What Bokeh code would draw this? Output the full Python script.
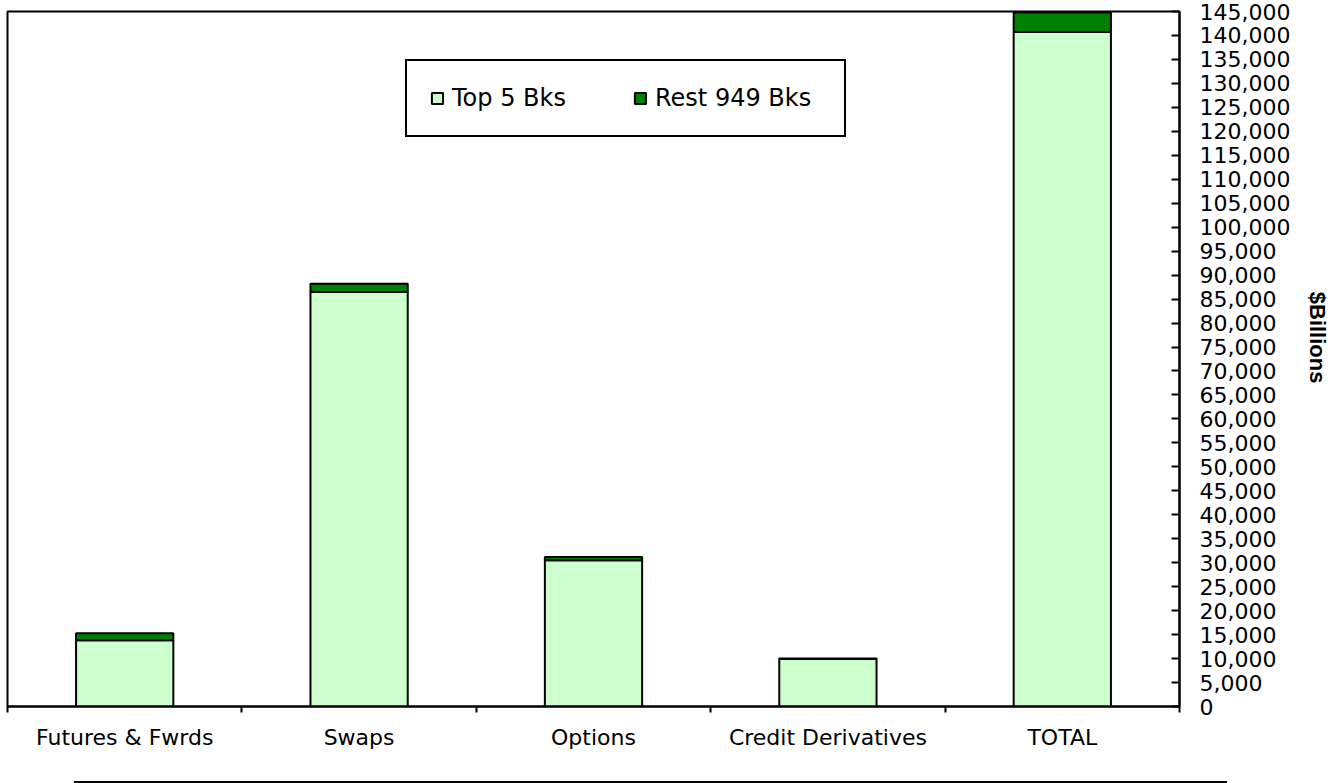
from bokeh.plotting import figure
from bokeh.models import ColumnDataSource, FixedTicker, NumeralTickFormatter, Div, Range1d
from bokeh.layouts import column
from bokeh.embed import file_html
from bokeh.resources import INLINE

categories = ["Futures & Fwrds", "Swaps", "Options", "Credit Derivatives", "TOTAL"]
top5 = [13800, 86500, 30500, 9900, 140700]
rest = [1500, 1700, 700, 100, 4100]
series_names = ["Top 5 Bks", "Rest 949 Bks"]
y_ticks = list(range(0, 145001, 5000))
y_title = "$Billions"

LIGHT = "#CCFFCC"
DARK = "#008000"
FONT = "DejaVu Sans"

xpos = [i + 0.5 for i in range(len(categories))]
src = ColumnDataSource(dict(x=xpos, top5=top5, rest=rest))

p = figure(frame_width=1172, frame_height=695, output_backend="svg", toolbar_location=None,
           x_range=Range1d(0, len(categories)), y_range=Range1d(0, 145000),
           y_axis_location="right", min_border_left=7, min_border_top=11,
           min_border_bottom=70, min_border_right=140)
p.outline_line_color = "black"
p.outline_line_width = 2
p.outline_line_alpha = 1
p.xgrid.visible = False
p.ygrid.visible = False
p.background_fill_color = "white"

p.vbar_stack(["top5", "rest"], x="x", width=0.415, source=src,
             fill_color=[LIGHT, DARK], line_color="black", line_width=2,
             legend_label=series_names)

xa = p.xaxis[0]
xa.ticker = FixedTicker(ticks=xpos, minor_ticks=list(range(len(categories) + 1)))
xa.major_label_overrides = {x: c for x, c in zip(xpos, categories)}
xa.major_tick_line_color = None
xa.minor_tick_in = 0
xa.minor_tick_out = 6
xa.minor_tick_line_width = 2
xa.minor_tick_line_color = "black"
xa.axis_line_width = 2
xa.axis_line_color = "black"
xa.major_label_text_font = FONT
xa.major_label_text_font_size = "22px"
xa.major_label_text_color = "black"
xa.major_label_standoff = 12

ya = p.yaxis[0]
ya.ticker = FixedTicker(ticks=y_ticks, minor_ticks=[])
ya.formatter = NumeralTickFormatter(format="0,0")
ya.major_tick_in = 8
ya.major_tick_out = 0
ya.major_tick_line_width = 2
ya.major_tick_line_color = "black"
ya.axis_line_width = 2
ya.axis_line_color = "black"
ya.major_label_text_font = FONT
ya.major_label_text_font_size = "22px"
ya.major_label_text_color = "black"
ya.major_label_standoff = 20
# trailing non-breaking spaces lift the rotated title a little, as in the original
ya.axis_label = y_title + "\u00a0" * 7
ya.axis_label_text_font = "Liberation Sans"
ya.axis_label_text_font_style = "bold"
ya.axis_label_text_font_size = "22px"
ya.axis_label_text_color = "black"
ya.axis_label_standoff = 12

lg = p.legend[0]
lg.orientation = "horizontal"
lg.location = (398, 569)
lg.border_line_color = "black"
lg.border_line_width = 2
lg.border_line_alpha = 1
lg.background_fill_color = "white"
lg.background_fill_alpha = 1
lg.glyph_width = 14
lg.glyph_height = 14
lg.label_text_font = FONT
lg.label_text_font_size = "24px"
lg.label_text_color = "black"
lg.label_height = 21
lg.label_width = 166
lg.label_standoff = 8
lg.padding = 23
lg.spacing = 15
lg.margin = 0

line = Div(text="", width=1153, height=2, margin=(5, 0, 0, 74),
           styles={"background-color": "black"})

layout = column(p, line, spacing=0)
open("out.html", "w").write(file_html(layout, INLINE))
